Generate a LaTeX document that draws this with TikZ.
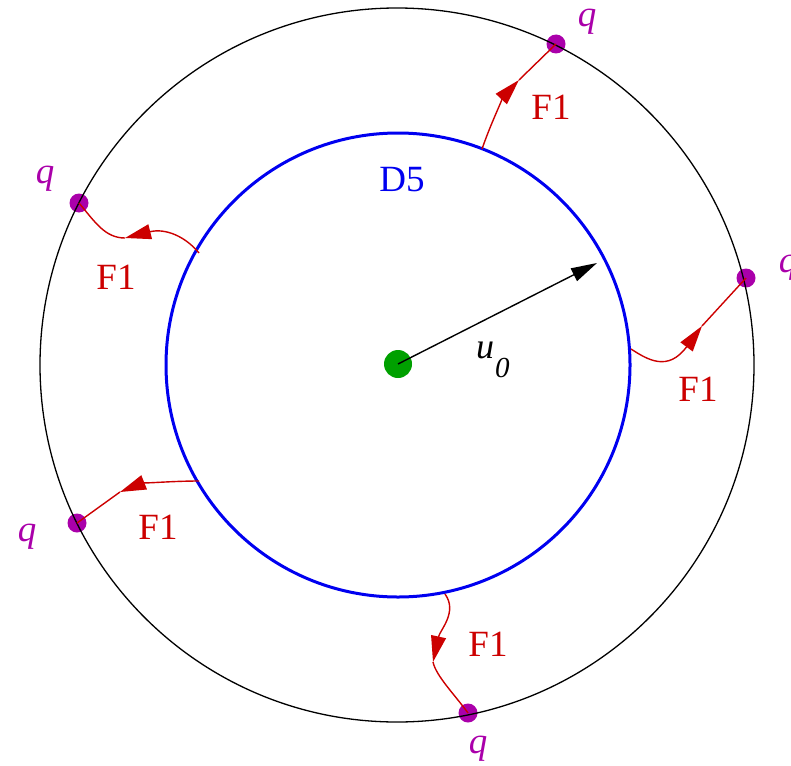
\documentclass[tikz,border=0pt]{standalone}
\usepackage{fontspec}
\setmainfont{Liberation Serif}
\usetikzlibrary{arrows.meta}
\definecolor{fred}{RGB}{204,0,0}
\definecolor{qmag}{RGB}{170,0,170}
\definecolor{dblue}{RGB}{0,0,240}
\definecolor{dgreen}{RGB}{0,160,0}
\begin{document}
\begin{tikzpicture}[x=1pt,y=-1pt,
  lbl/.style={inner sep=0pt, font=\fontsize{37}{37}\selectfont},
  flbl/.style={lbl, text=fred},
  qlbl/.style={inner sep=0pt, text=qmag, font=\fontsize{37}{37}\selectfont\itshape},
  qdot/.style={circle, fill=qmag, minimum size=19pt, inner sep=0pt},
  fstring/.style={draw=fred, line width=1.4pt},
  farrow/.style={fstring, -{Triangle[length=26pt,width=15pt]}},
]
\useasboundingbox (0,0) rectangle (791,765);
% charges
\node[qdot] (q1) at (556,44) {};
\node[qdot] (q2) at (79,203) {};
\node[qdot] (q3) at (746,278) {};
\node[qdot] (q4) at (77,523) {};
\node[qdot] (q5) at (468,713) {};
% circles
\draw[line width=1.3pt] (397,365) circle[radius=357];
\draw[dblue, line width=3pt] (398,365) circle[radius=232];
% centre and radius
\node[circle, fill=dgreen, minimum size=28pt, inner sep=0pt] (c) at (398,364) {};
\coordinate (rtip) at (597,263);
\draw[line width=1.4pt, -{Triangle[length=26pt,width=14pt]}] (c.center) -- (rtip);
\node[inner sep=0pt, anchor=base west, font=\fontsize{36}{36}\selectfont\itshape] (u) at (476,358) {u};
\node[inner sep=0pt, anchor=base west, font=\fontsize{29}{29}\selectfont\itshape] (u0) at (495,377) {0};
\node[lbl, text=dblue] (d5) at (402,180) {D5};
% strings
\coordinate (s1) at (482,149); \coordinate (m1) at (519,80);
\coordinate (s2) at (199,253); \coordinate (m2) at (125,238);
\coordinate (s3) at (631,349); \coordinate (m3) at (702,326);
\coordinate (s4) at (199,481); \coordinate (m4) at (120,492);
\coordinate (s5) at (445,594); \coordinate (m5) at (433,662);
\draw[farrow] (s1) .. controls (492,120) and (505,95) .. (m1);
\draw[fstring] (m1) -- (q1.center);
\draw[farrow] (s2) .. controls (185,236) and (165,228) .. (m2);
\draw[fstring] (m2) .. controls (105,238) and (95,222) .. (q2.center);
\draw[farrow] (s3) .. controls (648,360) and (668,372) .. (m3);
\draw[fstring] (m3) -- (q3.center);
\draw[farrow] (s4) .. controls (170,481) and (140,484) .. (m4);
\draw[fstring] (m4) -- (q4.center);
\draw[farrow] (s5) .. controls (458,612) and (440,630) .. (m5);
\draw[fstring] (m5) .. controls (436,676) and (455,695) .. (q5.center);
% labels
\node[flbl] (f1) at (551,107) {F1};
\node[flbl] (f2) at (116,277) {F1};
\node[flbl] (f3) at (698,389) {F1};
\node[flbl] (f4) at (158,527) {F1};
\node[flbl] (f5) at (488,644) {F1};
\node[qlbl] (l1) at (587,22) {q};
\node[qlbl] (l2) at (45,179) {q};
\node[qlbl] (l3) at (788,268) {q};
\node[qlbl] (l4) at (27,537) {q};
\node[qlbl] (l5) at (478,749) {q};
\end{tikzpicture}
\end{document}
